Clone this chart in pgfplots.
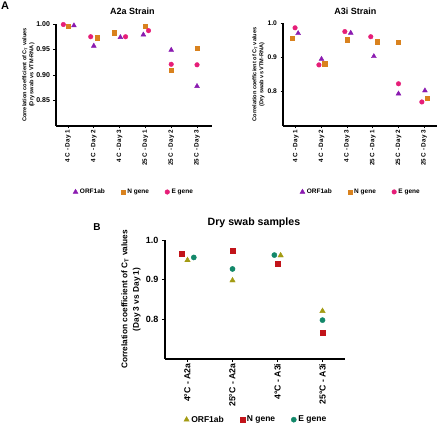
\documentclass[border=0pt]{standalone}
\usepackage{fontspec}
\setmainfont{Liberation Sans}
\usepackage{pgfplots}
\pgfplotsset{compat=1.18}
\definecolor{cORF}{HTML}{8A1AB0}
\definecolor{cN}{HTML}{D9821E}
\definecolor{cE}{HTML}{E61E78}
\definecolor{bORF}{HTML}{A39B12}
\definecolor{bN}{HTML}{C2141A}
\definecolor{bE}{HTML}{13886A}
\pgfplotsset{
  gp/.style={
    scale only axis, clip=false,
    axis x line*=bottom, axis y line*=left,
    axis line style={-, line width=1.3pt},
    every outer x axis line/.append style={-},
    every outer y axis line/.append style={-},
    tick style={line width=0.7pt, black},
    tick align=outside, major tick length=2.5pt,
    /pgf/number format/assume math mode=true,
    xticklabel style={rotate=90, anchor=east, inner sep=1.5pt},
    legend cell align=left,
    every axis title shift=0pt,
  },
}
\begin{document}
\begin{tikzpicture}
\path[use as bounding box] (0,0) rectangle (440pt,426pt);
\node[font=\fontsize{11}{12}\selectfont\bfseries] at (5pt,420pt) {A};
\node[font=\fontsize{10}{12}\selectfont\bfseries] at (97pt,199pt) {B};

% ---------- A2a ----------
\begin{axis}[gp,
  at={(56pt,300pt)}, anchor=south west,
  width=156pt, height=102pt,
  xmin=-0.465, xmax=5.58, ymin=0.80, ymax=1.00,
  xtick={0,...,5},
  xticklabels={4 C - Day 1,4 C - Day 2,4 C - Day 3,25 C - Day 1,25 C - Day 2,25 C - Day 3},
  xticklabel style={font=\fontsize{6.3}{7}\selectfont\bfseries},
  ytick={0.85,0.90,0.95,1.00},
  yticklabels={0.85,0.90,0.95,1.00},
  yticklabel style={font=\fontsize{7}{8}\selectfont\bfseries},
  title={A2a Strain},
  title style={font=\fontsize{9}{10}\selectfont\bfseries, at={(axis description cs:0.49,1.127)}, anchor=center},
  ylabel={Correlation coefficient of C\textsubscript{T} values\\(Dry swab vs VTM-RNA)},
  ylabel style={font=\fontsize{5.6}{7}\selectfont\bfseries, align=center, at={(axis description cs:-0.176,0.5)}, anchor=center},
  legend style={draw=none, fill=none, font=\fontsize{6.5}{7}\selectfont\bfseries, legend columns=3,
    at={(axis description cs:0.5,-0.647)}, anchor=center,
    /tikz/every even column/.append style={column sep=14pt}},
]
\addplot[only marks, mark=triangle*, mark size=2.8pt, color=cORF] coordinates {
 (0.23,0.997) (1.0,0.957) (2.03,0.974) (2.92,0.979) (4.0,0.949) (5.0,0.878)};
\addplot[only marks, mark=square*, mark size=2.2pt, color=cN] coordinates {
 (0,0.996) (1.13,0.973) (1.8,0.983) (3.0,0.996) (4.0,0.909) (5.0,0.952)};
\addplot[only marks, mark=*, mark size=2.3pt, color=cE] coordinates {
 (-0.18,0.999) (0.88,0.975) (2.23,0.975) (3.12,0.987) (4.0,0.921) (5.0,0.920)};
\legend{ORF1ab,N gene,E gene}
\end{axis}

% ---------- A3i ----------
\begin{axis}[gp,
  at={(283pt,300pt)}, anchor=south west,
  width=154pt, height=103pt,
  xmin=-0.5, xmax=5.5, ymin=0.70, ymax=1.00,
  xtick={0,...,5},
  xticklabels={4 C - Day 1,4 C - Day 2,4 C - Day 3,25 C - Day 1,25 C - Day 2,25 C - Day 3},
  xticklabel style={font=\fontsize{6.3}{7}\selectfont\bfseries},
  ytick={0.8,0.9,1.0},
  yticklabels={0.8,0.9,1.0},
  yticklabel style={font=\fontsize{6.7}{8}\selectfont\bfseries},
  title={A3i Strain},
  title style={font=\fontsize{9}{10}\selectfont\bfseries, at={(axis description cs:0.47,1.117)}, anchor=center},
  ylabel={Correlation coefficient of C\textsubscript{T} values\\(Dry swab vs VTM-RNA)},
  ylabel style={font=\fontsize{5.6}{7}\selectfont\bfseries, align=center, at={(axis description cs:-0.159,0.5)}, anchor=center},
  legend style={draw=none, fill=none, font=\fontsize{6.5}{7}\selectfont\bfseries, legend columns=3,
    at={(axis description cs:0.506,-0.64)}, anchor=center,
    /tikz/every even column/.append style={column sep=14pt}},
]
\addplot[only marks, mark=triangle*, mark size=2.8pt, color=cORF] coordinates {
 (0.09,0.970) (1.0,0.895) (2.14,0.971) (3.04,0.903) (4.0,0.794) (5.03,0.803)};
\addplot[only marks, mark=square*, mark size=2.2pt, color=cN] coordinates {
 (-0.14,0.955) (1.13,0.882) (2.01,0.951) (3.16,0.946) (4.0,0.944) (5.13,0.781)};
\addplot[only marks, mark=*, mark size=2.3pt, color=cE] coordinates {
 (-0.03,0.986) (0.9,0.878) (1.91,0.975) (2.92,0.960) (4.0,0.823) (4.91,0.770)};
\legend{ORF1ab,N gene,E gene}
\end{axis}

% ---------- B ----------
\begin{axis}[gp,
  at={(165pt,67pt)}, anchor=south west,
  width=180pt, height=119pt,
  xmin=-0.5, xmax=3.5, ymin=0.70, ymax=1.00,
  xtick={0,...,3},
  xticklabels={4°C - A2a,25°C - A2a,4°C - A3i,25°C - A3i},
  xticklabel style={font=\fontsize{8.7}{10}\selectfont\bfseries},
  ytick={0.8,0.9,1.0},
  yticklabels={0.8,0.9,1.0},
  yticklabel style={font=\fontsize{9}{10}\selectfont\bfseries},
  major tick length=3pt,
  title={Dry swab samples},
  title style={font=\fontsize{10.6}{12}\selectfont\bfseries, at={(axis description cs:0.494,1.145)}, anchor=center},
  ylabel={Correlation coefficient of C\textsubscript{T} values\\(Day 3 vs Day 1)},
  ylabel style={font=\fontsize{8.3}{11.5}\selectfont\bfseries, align=center, at={(axis description cs:-0.189,0.5)}, anchor=center},
  legend style={draw=none, fill=none, font=\fontsize{8.5}{10}\selectfont\bfseries, legend columns=3,
    at={(axis description cs:0.506,-0.51)}, anchor=center,
    /tikz/every even column/.append style={column sep=14pt}},
]
\addplot[only marks, mark=triangle*, mark size=3.1pt, color=bORF] coordinates {
 (0,0.949) (1,0.898) (2.07,0.961) (3,0.821)};
\addplot[only marks, mark=square*, mark size=2.5pt, color=bN] coordinates {
 (-0.12,0.965) (1,0.974) (2,0.941) (3,0.767)};
\addplot[only marks, mark=*, mark size=2.6pt, color=bE] coordinates {
 (0.14,0.956) (1,0.927) (1.93,0.962) (3,0.798)};
\legend{ORF1ab,N gene,E gene}
\end{axis}
\end{tikzpicture}
\end{document}
